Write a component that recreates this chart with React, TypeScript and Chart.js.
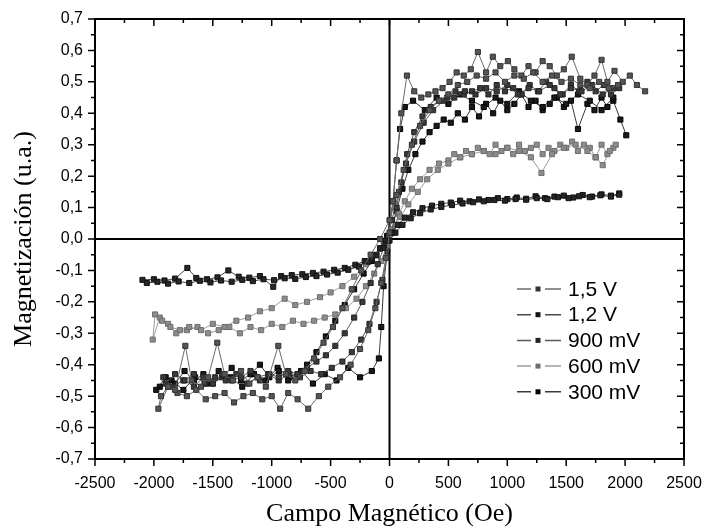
import { useEffect, useRef } from "react";
import { Chart, registerables } from "chart.js";

Chart.register(...registerables);

// ---- data: [campo (Oe), magnetización (u.a.)] ----
const seriesLabels = ["1,5 V", "1,2 V", "900 mV", "600 mV", "300 mV"];

const loop15V: [number, number][] = [
  [2170, 0.47], [2100, 0.49], [2040, 0.52], [1980, 0.5], [1910, 0.535], [1850, 0.5], [1800, 0.57], [1740, 0.52],
  [1680, 0.49], [1620, 0.51], [1547, 0.58], [1480, 0.54], [1420, 0.52], [1360, 0.55], [1300, 0.566], [1240, 0.53],
  [1180, 0.55], [1120, 0.52], [1060, 0.54], [1005, 0.566], [940, 0.55], [877, 0.58], [820, 0.53], [750, 0.595],
  [690, 0.54], [630, 0.52], [570, 0.53], [510, 0.5], [450, 0.48], [390, 0.47], [330, 0.46], [270, 0.45],
  [210, 0.47], [148, 0.52], [100, 0.4], [60, 0.25], [30, 0.12], [0, 0.02], [-30, -0.06], [-70, -0.14],
  [-120, -0.22], [-180, -0.29], [-250, -0.35], [-330, -0.4], [-420, -0.44], [-520, -0.47], [-600, -0.5], [-690, -0.54],
  [-780, -0.51], [-860, -0.49], [-928, -0.54], [-1000, -0.5], [-1080, -0.51], [-1160, -0.49], [-1240, -0.5], [-1320, -0.52],
  [-1400, -0.49], [-1480, -0.5], [-1560, -0.51], [-1640, -0.48], [-1720, -0.5], [-1800, -0.49], [-1880, -0.47], [-1962, -0.54],
  [-1940, -0.5], [-1880, -0.47], [-1820, -0.48], [-1733, -0.34], [-1680, -0.45], [-1600, -0.47], [-1540, -0.44], [-1462, -0.33],
  [-1400, -0.43], [-1330, -0.45], [-1260, -0.42], [-1190, -0.46], [-1120, -0.44], [-1050, -0.47], [-944, -0.34], [-880, -0.43],
  [-800, -0.45], [-720, -0.42], [-640, -0.38], [-560, -0.33], [-480, -0.28], [-400, -0.22], [-320, -0.16], [-240, -0.1],
  [-160, -0.05], [-80, 0.0], [0, 0.06], [60, 0.14], [120, 0.22], [190, 0.3], [260, 0.36], [340, 0.41],
  [420, 0.44], [500, 0.46], [580, 0.49], [660, 0.5], [740, 0.52], [820, 0.51], [900, 0.53], [980, 0.5],
  [1060, 0.52], [1140, 0.51], [1220, 0.53], [1300, 0.5], [1380, 0.52], [1460, 0.5], [1540, 0.51], [1620, 0.49],
  [1700, 0.48], [1780, 0.5], [1860, 0.48], [1940, 0.49],
];

const loop12V: [number, number][] = [
  [1950, 0.145], [1880, 0.138], [1800, 0.142], [1720, 0.135], [1640, 0.14], [1560, 0.132], [1480, 0.138], [1400, 0.135],
  [1320, 0.13], [1240, 0.136], [1160, 0.128], [1080, 0.132], [1000, 0.127], [920, 0.13], [840, 0.124], [760, 0.126],
  [680, 0.12], [600, 0.122], [520, 0.116], [440, 0.112], [360, 0.106], [280, 0.098], [200, 0.085], [130, 0.068],
  [70, 0.045], [20, 0.02], [-30, -0.005], [-80, -0.03], [-140, -0.052], [-210, -0.07], [-290, -0.082], [-380, -0.092],
  [-470, -0.098], [-560, -0.104], [-650, -0.108], [-740, -0.112], [-830, -0.115], [-920, -0.118], [-987, -0.152], [-1100, -0.118],
  [-1190, -0.123], [-1280, -0.12], [-1368, -0.1], [-1460, -0.122], [-1550, -0.128], [-1640, -0.124], [-1716, -0.092], [-1820, -0.126],
  [-1910, -0.132], [-2000, -0.128], [-2097, -0.13],
  [-2060, -0.14], [-1970, -0.136], [-1880, -0.142], [-1790, -0.135], [-1700, -0.14], [-1610, -0.133], [-1520, -0.138], [-1430, -0.132],
  [-1340, -0.136], [-1250, -0.13], [-1160, -0.134], [-1070, -0.128], [-980, -0.131], [-890, -0.125], [-800, -0.127], [-710, -0.121],
  [-620, -0.118], [-530, -0.113], [-440, -0.107], [-350, -0.098], [-260, -0.088], [-180, -0.072], [-110, -0.052], [-50, -0.028],
  [0, -0.005], [50, 0.02], [110, 0.045], [180, 0.066], [260, 0.082], [350, 0.094], [440, 0.102], [530, 0.108],
  [620, 0.113], [710, 0.117], [800, 0.12], [890, 0.124], [980, 0.122], [1070, 0.127], [1160, 0.125], [1250, 0.13],
  [1340, 0.127], [1430, 0.133], [1520, 0.13], [1610, 0.136], [1700, 0.133], [1790, 0.139], [1880, 0.135], [1950, 0.141],
];

const loop900mV: [number, number][] = [
  [1950, 0.48], [1880, 0.46], [1820, 0.49], [1750, 0.47], [1680, 0.5], [1610, 0.47], [1540, 0.49], [1470, 0.46],
  [1400, 0.48], [1330, 0.5], [1260, 0.47], [1190, 0.49], [1120, 0.46], [1050, 0.48], [980, 0.47], [910, 0.49],
  [840, 0.46], [770, 0.48], [700, 0.47], [630, 0.46], [560, 0.47], [490, 0.45], [420, 0.44], [350, 0.42],
  [280, 0.39], [210, 0.34], [150, 0.27], [100, 0.18], [60, 0.1], [20, 0.02], [-20, -0.06], [-60, -0.13],
  [-110, -0.2], [-170, -0.27], [-240, -0.32], [-320, -0.36], [-400, -0.39], [-490, -0.41], [-580, -0.43], [-670, -0.42],
  [-760, -0.44], [-850, -0.43], [-940, -0.45], [-1030, -0.43], [-1120, -0.44], [-1210, -0.46], [-1300, -0.43], [-1390, -0.45],
  [-1480, -0.44], [-1570, -0.46], [-1660, -0.43], [-1750, -0.45], [-1840, -0.47], [-1920, -0.44],
  [-1900, -0.46], [-1820, -0.43], [-1740, -0.45], [-1660, -0.47], [-1580, -0.44], [-1500, -0.46], [-1420, -0.43], [-1340, -0.45],
  [-1260, -0.44], [-1180, -0.42], [-1100, -0.45], [-1020, -0.43], [-940, -0.44], [-860, -0.42], [-780, -0.43], [-700, -0.41],
  [-620, -0.39], [-540, -0.37], [-460, -0.34], [-380, -0.3], [-300, -0.25], [-230, -0.2], [-160, -0.14], [-100, -0.08],
  [-40, -0.02], [20, 0.06], [80, 0.15], [140, 0.24], [210, 0.31], [290, 0.37], [370, 0.41], [460, 0.44],
  [550, 0.45], [640, 0.47], [730, 0.46], [820, 0.48], [910, 0.47], [1000, 0.49], [1090, 0.46], [1180, 0.48],
  [1270, 0.47], [1360, 0.49], [1450, 0.46], [1540, 0.48], [1630, 0.47], [1720, 0.49], [1810, 0.46], [1900, 0.48],
];

const loop600mV: [number, number][] = [
  [1900, 0.29], [1850, 0.27], [1800, 0.3], [1750, 0.26], [1700, 0.29], [1650, 0.3], [1600, 0.28], [1550, 0.31],
  [1500, 0.29], [1450, 0.3], [1400, 0.28], [1350, 0.29], [1300, 0.27], [1250, 0.3], [1200, 0.29], [1150, 0.28],
  [1100, 0.3], [1050, 0.27], [1000, 0.29], [950, 0.28], [900, 0.3], [850, 0.27], [800, 0.28], [750, 0.29],
  [700, 0.27], [650, 0.28], [600, 0.26], [550, 0.27], [500, 0.25], [420, 0.24], [340, 0.22], [260, 0.19],
  [190, 0.16], [130, 0.12], [80, 0.08], [30, 0.03], [-20, -0.02], [-70, -0.07], [-130, -0.11], [-200, -0.15],
  [-280, -0.19], [-370, -0.22], [-460, -0.24], [-550, -0.25], [-640, -0.26], [-730, -0.27], [-820, -0.26], [-910, -0.28],
  [-1000, -0.27], [-1090, -0.29], [-1180, -0.28], [-1270, -0.3], [-1360, -0.28], [-1450, -0.29], [-1540, -0.3], [-1630, -0.28],
  [-1720, -0.29], [-1810, -0.3], [-1880, -0.27], [-1950, -0.25], [-2010, -0.32],
  [-1990, -0.24], [-1930, -0.26], [-1860, -0.28], [-1780, -0.29], [-1700, -0.28], [-1600, -0.29], [-1500, -0.27], [-1400, -0.28],
  [-1300, -0.26], [-1200, -0.25], [-1100, -0.23], [-1000, -0.22], [-890, -0.19], [-800, -0.21], [-700, -0.2], [-590, -0.185],
  [-500, -0.17], [-400, -0.15], [-300, -0.12], [-200, -0.08], [-120, -0.05], [-50, -0.01], [20, 0.03], [90, 0.07],
  [160, 0.11], [240, 0.15], [320, 0.19], [410, 0.22], [500, 0.24], [600, 0.26], [700, 0.27], [800, 0.28],
  [900, 0.27], [1000, 0.29], [1100, 0.28], [1200, 0.26], [1290, 0.21], [1380, 0.27], [1480, 0.29], [1580, 0.3],
  [1680, 0.28], [1750, 0.26], [1810, 0.235], [1870, 0.28], [1920, 0.3],
];

const loop300mV: [number, number][] = [
  [2010, 0.33], [1960, 0.38], [1900, 0.44], [1850, 0.42], [1800, 0.45], [1740, 0.41], [1680, 0.43], [1600, 0.35],
  [1540, 0.44], [1480, 0.42], [1420, 0.45], [1360, 0.43], [1300, 0.41], [1240, 0.44], [1180, 0.42], [1120, 0.46],
  [1060, 0.43], [1000, 0.41], [940, 0.44], [880, 0.4], [820, 0.43], [760, 0.39], [700, 0.42], [640, 0.38],
  [580, 0.4], [520, 0.37], [460, 0.38], [400, 0.36], [340, 0.34], [280, 0.31], [220, 0.27], [160, 0.22],
  [110, 0.16], [60, 0.09], [20, 0.03], [-20, -0.04], [-50, -0.15], [-70, -0.28], [-90, -0.38], [-150, -0.42],
  [-250, -0.44], [-350, -0.41], [-450, -0.45], [-550, -0.43], [-650, -0.46], [-750, -0.42], [-850, -0.44], [-950, -0.41],
  [-1050, -0.45], [-1150, -0.43], [-1250, -0.47], [-1350, -0.44], [-1450, -0.42], [-1550, -0.46], [-1650, -0.44], [-1750, -0.48],
  [-1850, -0.45], [-1950, -0.47],
  [-1980, -0.48], [-1900, -0.44], [-1820, -0.46], [-1740, -0.42], [-1660, -0.45], [-1580, -0.43], [-1500, -0.46], [-1420, -0.44],
  [-1340, -0.41], [-1260, -0.45], [-1180, -0.43], [-1100, -0.4], [-1020, -0.44], [-940, -0.42], [-860, -0.45], [-780, -0.43],
  [-700, -0.4], [-620, -0.36], [-540, -0.31], [-460, -0.26], [-380, -0.21], [-300, -0.16], [-220, -0.11], [-150, -0.07],
  [-80, -0.03], [-20, 0.01], [30, 0.12], [60, 0.25], [90, 0.35], [130, 0.42], [200, 0.44], [300, 0.41],
  [400, 0.45], [500, 0.43], [600, 0.46], [700, 0.44], [800, 0.42], [900, 0.45], [1000, 0.43], [1100, 0.47],
  [1200, 0.44], [1300, 0.42], [1400, 0.45], [1500, 0.43], [1600, 0.46], [1700, 0.44], [1800, 0.41], [1900, 0.45],
];

const loops = [loop15V, loop12V, loop900mV, loop600mV, loop300mV];

// styling per series
const lineColors = ["#6a6a6a", "#4a4a4a", "#585858", "#9c9c9c", "#3a3a3a"];
const markerBorders = ["#333333", "#111111", "#222222", "#6e6e6e", "#000000"];
const markerFills = ["#555555", "#262626", "#3a3a3a", "#8c8c8c", "#1a1a1a"];

const X_MIN = -2500;
const X_MAX = 2500;
const X_STEP = 500;
const Y_MIN = -0.7;
const Y_MAX = 0.7;
const Y_STEP = 0.1;

const fmtY = (v: number) => {
  if (Math.abs(v) < 1e-9) return "0,0";
  return v.toFixed(1).replace(".", ",");
};

const framePlugin = {
  id: "framePlugin",
  beforeDatasetsDraw(chart: any) {
    const { ctx, chartArea: a, scales } = chart;
    const x0 = scales.x.getPixelForValue(0);
    const y0 = scales.y.getPixelForValue(0);
    ctx.save();
    ctx.strokeStyle = "#000";
    ctx.lineWidth = 2;
    ctx.beginPath();
    ctx.moveTo(a.left, y0);
    ctx.lineTo(a.right, y0);
    ctx.stroke();
    ctx.beginPath();
    ctx.moveTo(x0, a.top);
    ctx.lineTo(x0, a.bottom);
    ctx.stroke();
    ctx.restore();
  },
  afterDraw(chart: any) {
    const { ctx, chartArea: a, scales } = chart;
    ctx.save();
    ctx.strokeStyle = "#000";
    ctx.lineWidth = 2;
    ctx.strokeRect(a.left, a.top, a.right - a.left, a.bottom - a.top);

    ctx.lineWidth = 1.5;
    // x ticks (major every 500, minor every 250)
    for (let k = 0; k <= (X_MAX - X_MIN) / (X_STEP / 2); k++) {
      const v = X_MIN + k * (X_STEP / 2);
      const px = scales.x.getPixelForValue(v);
      const len = k % 2 === 0 ? 7 : 4;
      ctx.beginPath();
      ctx.moveTo(px, a.bottom);
      ctx.lineTo(px, a.bottom + len);
      ctx.moveTo(px, a.top);
      ctx.lineTo(px, a.top + len);
      ctx.stroke();
    }
    // y ticks (major every 0.1, minor every 0.05)
    const ny = Math.round((Y_MAX - Y_MIN) / (Y_STEP / 2));
    for (let k = 0; k <= ny; k++) {
      const v = Y_MIN + k * (Y_STEP / 2);
      const py = scales.y.getPixelForValue(v);
      const len = k % 2 === 0 ? 7 : 4;
      ctx.beginPath();
      ctx.moveTo(a.left - len, py);
      ctx.lineTo(a.left, py);
      ctx.moveTo(a.right - len, py);
      ctx.lineTo(a.right, py);
      ctx.stroke();
    }

    // legend
    const lx = 517;
    const ly0 = 289;
    const dy = 25.7;
    ctx.font = "21px 'Liberation Sans', Arial, sans-serif";
    ctx.textBaseline = "middle";
    ctx.textAlign = "left";
    chart.data.datasets.forEach((ds: any, i: number) => {
      const yy = ly0 + i * dy;
      ctx.strokeStyle = ds.borderColor;
      ctx.lineWidth = 1.5;
      ctx.beginPath();
      ctx.moveTo(lx, yy);
      ctx.lineTo(lx + 14, yy);
      ctx.moveTo(lx + 28, yy);
      ctx.lineTo(lx + 44, yy);
      ctx.stroke();
      ctx.fillStyle = ds.pointBorderColor;
      ctx.fillRect(lx + 18.5, yy - 2.5, 5, 5);
      ctx.fillStyle = "#000";
      ctx.fillText(ds.label, lx + 51, yy + 1);
    });
    ctx.restore();
  },
};

export default function App() {
  const canvasRef = useRef<HTMLCanvasElement | null>(null);

  useEffect(() => {
    if (!canvasRef.current) return;
    const datasets = loops.map((loop, i) => ({
      label: seriesLabels[i],
      data: loop.map(([h, m]) => ({ x: h, y: m })),
      showLine: true,
      borderColor: lineColors[i],
      borderWidth: 1,
      pointStyle: "rect" as const,
      pointRadius: 3.6,
      pointBorderWidth: 1,
      pointBorderColor: markerBorders[i],
      pointBackgroundColor: markerFills[i],
      backgroundColor: markerFills[i],
      tension: 0,
    }));

    const chart = new Chart(canvasRef.current, {
      type: "scatter",
      data: { datasets },
      options: {
        animation: false,
        responsive: true,
        maintainAspectRatio: false,
        layout: { padding: { left: 0, top: 19, right: 23, bottom: 0 } },
        plugins: { legend: { display: false }, tooltip: { enabled: false } },
        scales: {
          x: {
            type: "linear",
            min: X_MIN,
            max: X_MAX,
            grid: { display: false, drawTicks: false },
            border: { display: false },
            ticks: {
              stepSize: X_STEP,
              padding: 15,
              color: "#000",
              font: { family: "'Liberation Sans', Arial, sans-serif", size: 16 },
              maxRotation: 0,
              callback: (v: any) => String(v),
            },
            title: {
              display: true,
              text: "Campo Magnético (Oe)",
              color: "#000",
              font: { family: "'Liberation Serif', 'Times New Roman', serif", size: 26 },
              padding: { top: 0, bottom: 1 },
            },
            afterFit: (scale: any) => {
              scale.height = 72;
              scale.paddingLeft = 0;
              scale.paddingRight = 0;
            },
          },
          y: {
            type: "linear",
            min: Y_MIN,
            max: Y_MAX,
            grid: { display: false, drawTicks: false },
            border: { display: false },
            ticks: {
              stepSize: Y_STEP,
              padding: 12,
              color: "#000",
              font: { family: "'Liberation Sans', Arial, sans-serif", size: 16 },
              callback: (v: any) => fmtY(Number(v)),
            },
            title: {
              display: true,
              text: "Magnetización (u.a.)",
              color: "#000",
              font: { family: "'Liberation Serif', 'Times New Roman', serif", size: 26 },
              padding: { top: 9, bottom: 0 },
            },
            afterFit: (scale: any) => {
              scale.width = 95;
              scale.paddingTop = 0;
              scale.paddingBottom = 0;
            },
          },
        },
      },
      plugins: [framePlugin],
    });
    return () => chart.destroy();
  }, []);

  return (
    <div style={{ position: "fixed", left: 0, top: 0, width: 707, height: 531, background: "#fff" }}>
      <canvas ref={canvasRef} />
    </div>
  );
}
